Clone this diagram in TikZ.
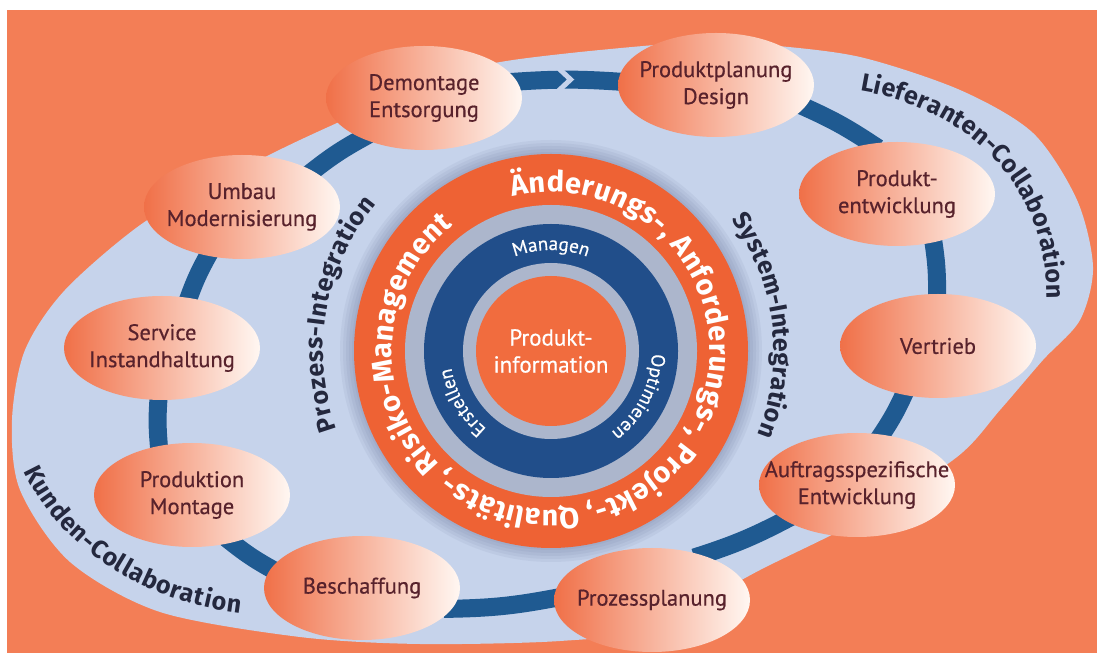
\documentclass[tikz,border=0pt]{standalone}
\usepackage{fontspec}
\setmainfont{PT Sans}
\newfontfamily\stnfont[FakeBold=0.5]{PT Sans}
\newfontfamily\capfont{Fira Sans}
\usetikzlibrary{shapes.geometric,decorations.text}

\definecolor{bgorange}{RGB}{243,126,86}
\definecolor{blobblue}{RGB}{198,211,235}
\definecolor{ringblue}{RGB}{31,90,145}
\definecolor{ringorange}{RGB}{238,98,52}
\definecolor{coreorange}{RGB}{241,108,62}
\definecolor{deepblue}{RGB}{33,78,138}
\definecolor{gapgrey}{RGB}{172,182,204}
\definecolor{haze}{RGB}{90,100,140}
\definecolor{stnorange}{RGB}{240,112,72}
\definecolor{stnwhite}{RGB}{255,247,242}
\definecolor{stnbrown}{RGB}{88,34,44}
\definecolor{labelnavy}{RGB}{36,40,62}

\pgfdeclarelayer{back}
\pgfdeclarelayer{links}
\pgfsetlayers{back,links,main}

\begin{document}
\begin{tikzpicture}[x=1pt,y=1pt,
	station/.style={ellipse,minimum width=196,minimum height=104,inner sep=0pt,left color=stnorange,right color=stnwhite},
	stntext/.style={align=center,text=stnbrown,font=\stnfont\fontsize{22.5}{27}\selectfont},
	ringline/.style={draw=ringblue,line width=18pt,shorten <=-8pt,shorten >=-8pt},
	notch/.style={draw=blobblue,line width=5pt,line join=miter}
]

	\def \rout {197};
	\def \rin {146};
	\def \rband {127};
	\def \rcore {88};

	\useasboundingbox (0,0) rectangle (1097,653);
	\coordinate (hub) at (551,302);

	\begin{pgfonlayer}{back}
		\fill[white] (0,0) rectangle (1097,653);
		\fill[bgorange] (7,0) rectangle (1097,643);
		% collaboration area
		\fill[blobblue] plot[smooth cycle] coordinates {
			(513,593) (600,603) (700,611) (767,608) (860,596) (960,563) (1033,520)
			(1077,453) (1093,386) (1080,333) (1043,293) (1000,243) (957,196) (860,133)
			(760,83) (650,25) (560,12) (420,9) (300,16) (160,41) (70,91) (20,163)
			(12,233) (25,303) (65,363) (143,430) (230,478) (300,513) (400,558) (460,582)};
		\foreach \r in {199,202,...,211}
			\fill[haze,opacity=.08] (hub) circle[radius=\r];
	\end{pgfonlayer}

	% rings around the product information
	\fill[ringorange] (hub) circle[radius=\rout];
	\fill[gapgrey] (hub) circle[radius=\rin];
	\fill[deepblue] (hub) circle[radius=\rband];
	\fill[gapgrey] (hub) circle[radius=\rcore];
	\node[circle,fill=coreorange,minimum size=150,inner sep=0pt,text=white,align=center,
		font=\stnfont\fontsize{23}{27}\selectfont] (info) at (hub) {Produkt-\\information};

	\path[decorate,decoration={text along path,text color=white,text align=fit to path,
		text={|\capfont\bfseries\fontsize{29}{29}\selectfont|Änderungs-, Anforderungs-, Projekt-, Qualitäts-, Risiko-Management}}]
		([shift={(104:159)}]hub) arc[start angle=104,end angle=-232,radius=159];

	\path[decorate,decoration={text along path,text color=white,text align=center,
		text={|\stnfont\fontsize{19}{19}\selectfont|Managen}}]
		([shift={(130:101)}]hub) arc[start angle=130,end angle=50,radius=101];
	\path[decorate,decoration={text along path,text color=white,text align=center,
		text={|\stnfont\fontsize{19}{19}\selectfont|Optimieren}}]
		([shift={(25:101)}]hub) arc[start angle=25,end angle=-80,radius=101];
	\path[decorate,decoration={text along path,text color=white,text align=center,
		text={|\stnfont\fontsize{19}{19}\selectfont|Erstellen}}]
		([shift={(255:101)}]hub) arc[start angle=255,end angle=165,radius=101];

	% integration and collaboration captions
	\path[decorate,decoration={text along path,text color=labelnavy,text align=fit to path,
		text={|\capfont\bfseries\fontsize{25}{25}\selectfont|Prozess-Integration}}]
		([shift={(200:228)}]hub) arc[start angle=200,end angle=140,radius=228];
	\path[decorate,decoration={text along path,text color=labelnavy,text align=fit to path,
		text={|\capfont\bfseries\fontsize{25}{25}\selectfont|System-Integration}}]
		([shift={(36:223)}]hub) arc[start angle=36,end angle=-22,radius=223];
	\path[decorate,decoration={text along path,text color=labelnavy,text align=fit to path,
		text={|\capfont\bfseries\fontsize{25}{25}\selectfont|Lieferanten-Collaboration}}]
		(860,562) .. controls (960,546) and (1047,476) .. (1047,354);
	\path[decorate,decoration={text along path,text color=labelnavy,text align=fit to path,
		text={|\capfont\bfseries\fontsize{25}{25}\selectfont|Kunden-Collaboration}}]
		(24,182) .. controls (58,108) and (140,52) .. (240,40);

	% process stations
	\node[station,label={[stntext]center:Demontage\\Entsorgung}] (dem) at (424,555) {};
	\node[station,label={[stntext]center:Produktplanung\\Design}] (plan) at (716,568) {};
	\node[station,label={[stntext]center:Produkt-\\entwicklung}] (entw) at (897,459) {};
	\node[station,label={[stntext]center:Vertrieb}] (vert) at (938,307) {};
	\node[station,label={[stntext]center:Auftragsspezifische\\Entwicklung}] (auftr) at (857,168) {};
	\node[station,label={[stntext]center:Prozessplanung}] (proz) at (652,53) {};
	\node[station,label={[stntext]center:Beschaffung}] (besch) at (362,65) {};
	\node[station,label={[stntext]center:Produktion\\Montage}] (prod) at (192,158) {};
	\node[station,label={[stntext]center:Service\\Instandhaltung}] (serv) at (162,305) {};
	\node[station,label={[stntext]center:Umbau\\Modernisierung}] (umbau) at (242,446) {};

	\begin{pgfonlayer}{links}
		\draw[ringline] (dem.10) to[bend left=4] coordinate[midway] (tip) (plan.178);
		\foreach \a/\oa/\b/\ib in {plan/-14/entw/117, entw/-53/vert/91, vert/235/auftr/64,
			auftr/206/proz/42, proz/179/besch/-13, besch/168/prod/-50, prod/124/serv/266,
			serv/62/umbau/235, umbau/27/dem/213}
			\draw[ringline] (\a.\oa) to[bend left=5] (\b.\ib);
		\draw[notch] ([shift={(-12,14)}]tip) -- ([shift={(3,0)}]tip) -- ([shift={(-12,-14)}]tip);
	\end{pgfonlayer}
\end{tikzpicture}
\end{document}
